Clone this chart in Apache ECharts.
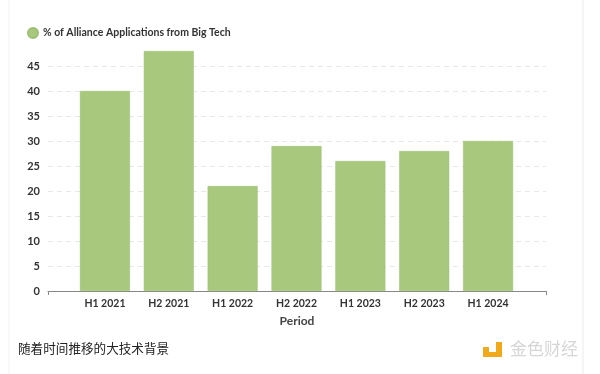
<!DOCTYPE html>
<html><head><meta charset="utf-8">
<script src="https://cdn.jsdelivr.net/npm/echarts@6/dist/echarts.min.js"></script>
<style>html,body{margin:0;padding:0;background:#fff}#c{width:600px;height:374px}</style>
</head><body><div id="c"></div>
<script>
const categories = ['H1 2021','H2 2021','H1 2022','H2 2022','H1 2023','H2 2023','H1 2024'];
const values = [40, 48, 21, 29, 26, 28, 30];
const seriesName = '% of Alliance Applications from Big Tech';
const xAxisTitle = 'Period';
const caption = '随着时间推移的大技术背景';
const watermark = '金色财经';

const chart = echarts.init(document.getElementById('c'));
const F = 'Lato, "Noto Sans", sans-serif';
chart.setOption({
  animation: false,
  legend: {
    left: 22, top: 22, itemWidth: 10, itemHeight: 10, icon: 'circle', itemGap: 7,
    textStyle: {fontFamily: F, fontSize: 10.5, color: '#333', fontWeight: 'bold'},
    data: [seriesName]
  },
  grid: [
    {left: 48, right: 54, top: 51, bottom: 83},
    {left: 73, right: 80, top: 51, bottom: 83}
  ],
  xAxis: [
    {gridIndex: 0, type: 'value', min: 0, max: 1, interval: 1,
     axisLine: {show: true, lineStyle: {color: '#888', width: 1}},
     axisTick: {show: true, length: 4, lineStyle: {color: '#888'}},
     axisLabel: {show: false}, splitLine: {show: false},
     name: xAxisTitle, nameLocation: 'middle', nameGap: 24,
     nameTextStyle: {fontFamily: F, fontSize: 12, fontWeight: 'bold', color: '#444'}},
    {gridIndex: 1, type: 'category', data: categories,
     axisLine: {show: false}, axisTick: {show: false},
     axisLabel: {fontFamily: F, fontSize: 10.5, fontWeight: 'bold', color: '#333', margin: 7}}
  ],
  yAxis: [
    {gridIndex: 0, type: 'value', min: 0, max: 48, interval: 5,
     axisLine: {show: false}, axisTick: {show: false},
     axisLabel: {fontFamily: F, fontSize: 11, fontWeight: 'bold', color: '#333', margin: 8, showMaxLabel: false},
     splitLine: {show: true, showMinLine: false, showMaxLine: false, lineStyle: {color: '#e8e8e8', type: [5, 4]}}},
    {gridIndex: 1, type: 'value', min: 0, max: 48, show: false, splitLine: {show: false}}
  ],
  series: [{
    name: seriesName, type: 'bar', xAxisIndex: 1, yAxisIndex: 1,
    data: values, barWidth: 50,
    itemStyle: {color: '#a8c87e', borderColor: '#9dbf73', borderWidth: 0.5}
  }],
  graphic: [
    {type: 'line', shape: {x1: 583, y1: 0, x2: 583, y2: 374}, style: {stroke: '#ececec', lineWidth: 1}},
    {type: 'line', shape: {x1: 9, y1: 0, x2: 9, y2: 374}, style: {stroke: '#f3f3f3', lineWidth: 1}},
    {type: 'text', left: 18, top: 342, style: {text: caption, font: '12.6px "Noto Sans CJK SC", sans-serif', fill: '#222'}},
    {type: 'rect', shape: {x: 483, y: 347, width: 6, height: 6}, style: {fill: '#f0a91a'}},
    {type: 'rect', shape: {x: 483, y: 352, width: 19, height: 5}, style: {fill: '#f0a91a'}},
    {type: 'rect', shape: {x: 496, y: 342, width: 6, height: 15}, style: {fill: '#f0a91a'}},
    {type: 'text', left: 510, top: 340, style: {text: watermark, font: '17px "Noto Sans CJK SC", sans-serif', fill: '#d6d6d6'}}
  ]
});
</script></body></html>
